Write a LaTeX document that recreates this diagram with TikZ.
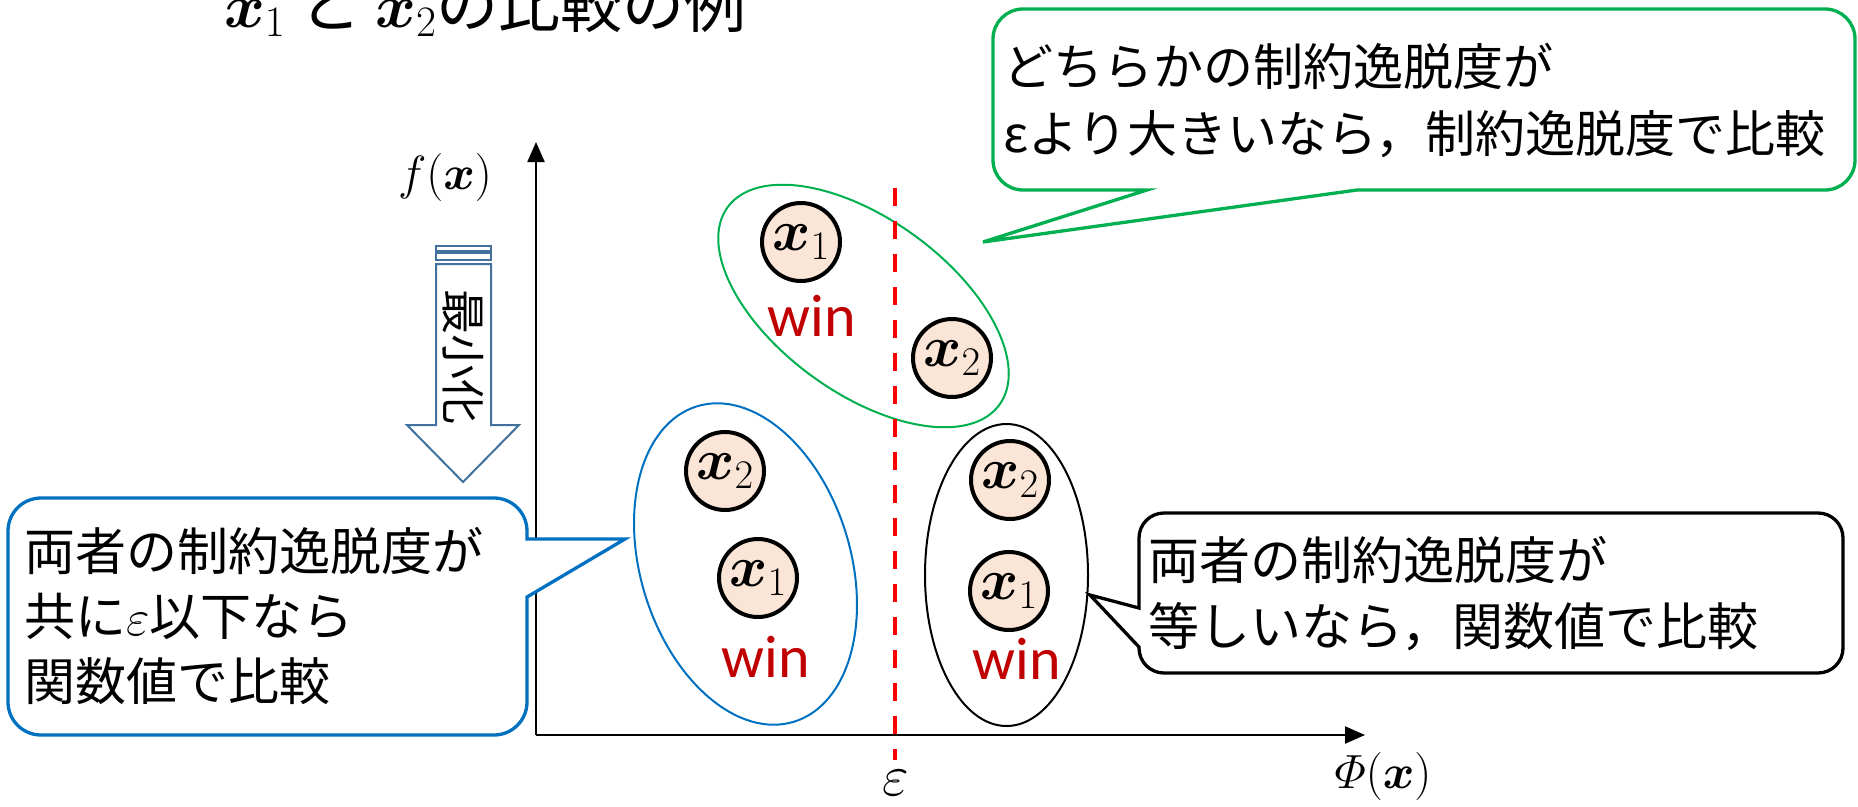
\RequirePackage{fix-cm}
\documentclass[tikz,border=0pt]{standalone}
\usepackage{amsmath}
\usepackage[no-math]{fontspec}
\setmainfont{Carlito}
\newfontfamily\jp{Noto Sans CJK JP}
\usetikzlibrary{arrows.meta,shapes.geometric}
\definecolor{pgreen}{HTML}{00B050}
\definecolor{pblue}{HTML}{0070C0}
\definecolor{pred}{HTML}{FF0000}
\definecolor{winred}{HTML}{C00000}
\definecolor{peach}{HTML}{FBE5D6}
\definecolor{arrowblue}{HTML}{41719C}
\begin{document}
\begin{tikzpicture}[x=1pt,y=1pt,
  every node/.style={inner sep=0pt, outer sep=0pt},
  ptnode/.style={circle, draw=black, line width=4pt, fill=peach, minimum size=78pt, font=\fontsize{58}{60}\selectfont},
  winlabel/.style={text=winred, font=\fontsize{60}{72}\selectfont},
  grp/.style={ellipse, draw=#1, line width=2pt},
  jptext/.style={font=\jp\fontsize{51}{#1}\selectfont, align=left, anchor=west},
  axisline/.style={line width=2.2pt, -{Triangle[length=20pt,width=17pt]}},
  boxline/.style={line width=3.3pt, line join=miter, fill=white},
  mathlabel/.style={font=\fontsize{48}{52}\selectfont}
]
\useasboundingbox (0,0) rectangle (1858,-806);
\clip (0,0) rectangle (1858,-806);

% title
\node[anchor=base west] (title) at (224,-27) {\fontsize{62}{66}\selectfont $\boldsymbol{x}_1$ {\jp と} $\boldsymbol{x}_2${\jp の比較の例}};

% axes
\coordinate (O) at (536,-735);
\coordinate (ytop) at (536,-142);
\coordinate (xend) at (1365,-735);
\draw[axisline] (O) -- (ytop);
\draw[axisline] (O) -- (xend);
\node[mathlabel] (fx) at (445,-177) {$f(\boldsymbol{x})$};
\node[mathlabel] (phix) at (1383,-776) {$\varPhi(\boldsymbol{x})$};
\node[font=\fontsize{58}{60}\selectfont] (eps) at (896,-783) {$\varepsilon$};

% minimisation arrow
\draw[arrowblue, line width=2pt] (436,-246) rectangle (491,-251);
\draw[arrowblue, line width=2pt] (436,-253) rectangle (491,-260);
\draw[arrowblue, line width=2pt, line join=miter] (436,-264) -- (436,-425) -- (407,-425) -- (463,-482) -- (519,-425) -- (491,-425) -- (491,-264) -- cycle;
\node[rotate=-90, font=\jp\fontsize{45}{45}\selectfont] (minlabel) at (463,-357) {最小化};

% groups
\node[grp=pgreen, minimum width=336pt, minimum height=174pt, rotate=-36] (gE) at (863.5,-306) {};
\node[grp=pblue, minimum width=330pt, minimum height=210pt, rotate=-72.9] (bE) at (745.5,-564) {};
\node[grp=black, minimum width=163pt, minimum height=302pt] (kE) at (1006.5,-575) {};

% epsilon line
\coordinate (e1) at (895,-188);
\coordinate (e2) at (895,-760);
\draw[pred, line width=4.5pt, dash pattern=on 18pt off 15pt] (e1) -- (e2);

% points
\node[ptnode] (g1) at (801,-242) {$\boldsymbol{x}_1$};
\node[ptnode] (g2) at (952,-358) {$\boldsymbol{x}_2$};
\node[winlabel] (gw) at (812,-316) {win};
\node[ptnode] (b2) at (725,-471) {$\boldsymbol{x}_2$};
\node[ptnode] (b1) at (758,-578) {$\boldsymbol{x}_1$};
\node[winlabel] (bw) at (766,-657) {win};
\node[ptnode] (k2) at (1010,-480) {$\boldsymbol{x}_2$};
\node[ptnode] (k1) at (1009,-591) {$\boldsymbol{x}_1$};
\node[winlabel] (kw) at (1017,-659) {win};

% green callout
\coordinate (gtip) at (983,-242);
\draw[boxline, draw=pgreen] (1147,-190) -- (gtip) -- (1357,-190) -- (1825,-190)
  arc[start angle=-90,end angle=0,radius=30] -- (1855,-39)
  arc[start angle=0,end angle=90,radius=30] -- (1023,-9)
  arc[start angle=90,end angle=180,radius=30] -- (993,-160)
  arc[start angle=180,end angle=270,radius=30] -- cycle;
\node[jptext=67, font=\jp\fontsize{50}{67}\selectfont] (gtext) at (1003,-101) {どちらかの制約逸脱度が\\εより大きいなら，制約逸脱度で比較};

% blue callout
\coordinate (btip) at (625,-539);
\draw[boxline, draw=pblue] (527,-539) -- (btip) -- (527,-597) -- (527,-702)
  arc[start angle=0,end angle=-90,radius=33] -- (41,-735)
  arc[start angle=-90,end angle=-180,radius=33] -- (8,-531)
  arc[start angle=180,end angle=90,radius=33] -- (494,-498)
  arc[start angle=90,end angle=0,radius=33] -- cycle;
\node[jptext=65] (btext) at (24,-616) {両者の制約逸脱度が\\共に$\varepsilon$以下なら\\関数値で比較};

% black callout
\coordinate (ktip) at (1090,-595);
\draw[boxline, draw=black] (1139,-608) -- (ktip) -- (1139,-647) -- (1139,-648)
  arc[start angle=180,end angle=270,radius=25] -- (1818,-673)
  arc[start angle=-90,end angle=0,radius=25] -- (1843,-538)
  arc[start angle=0,end angle=90,radius=25] -- (1164,-513)
  arc[start angle=90,end angle=180,radius=25] -- cycle;
\node[jptext=66] (ktext) at (1148,-594) {両者の制約逸脱度が\\等しいなら，関数値で比較};
\end{tikzpicture}
\end{document}
